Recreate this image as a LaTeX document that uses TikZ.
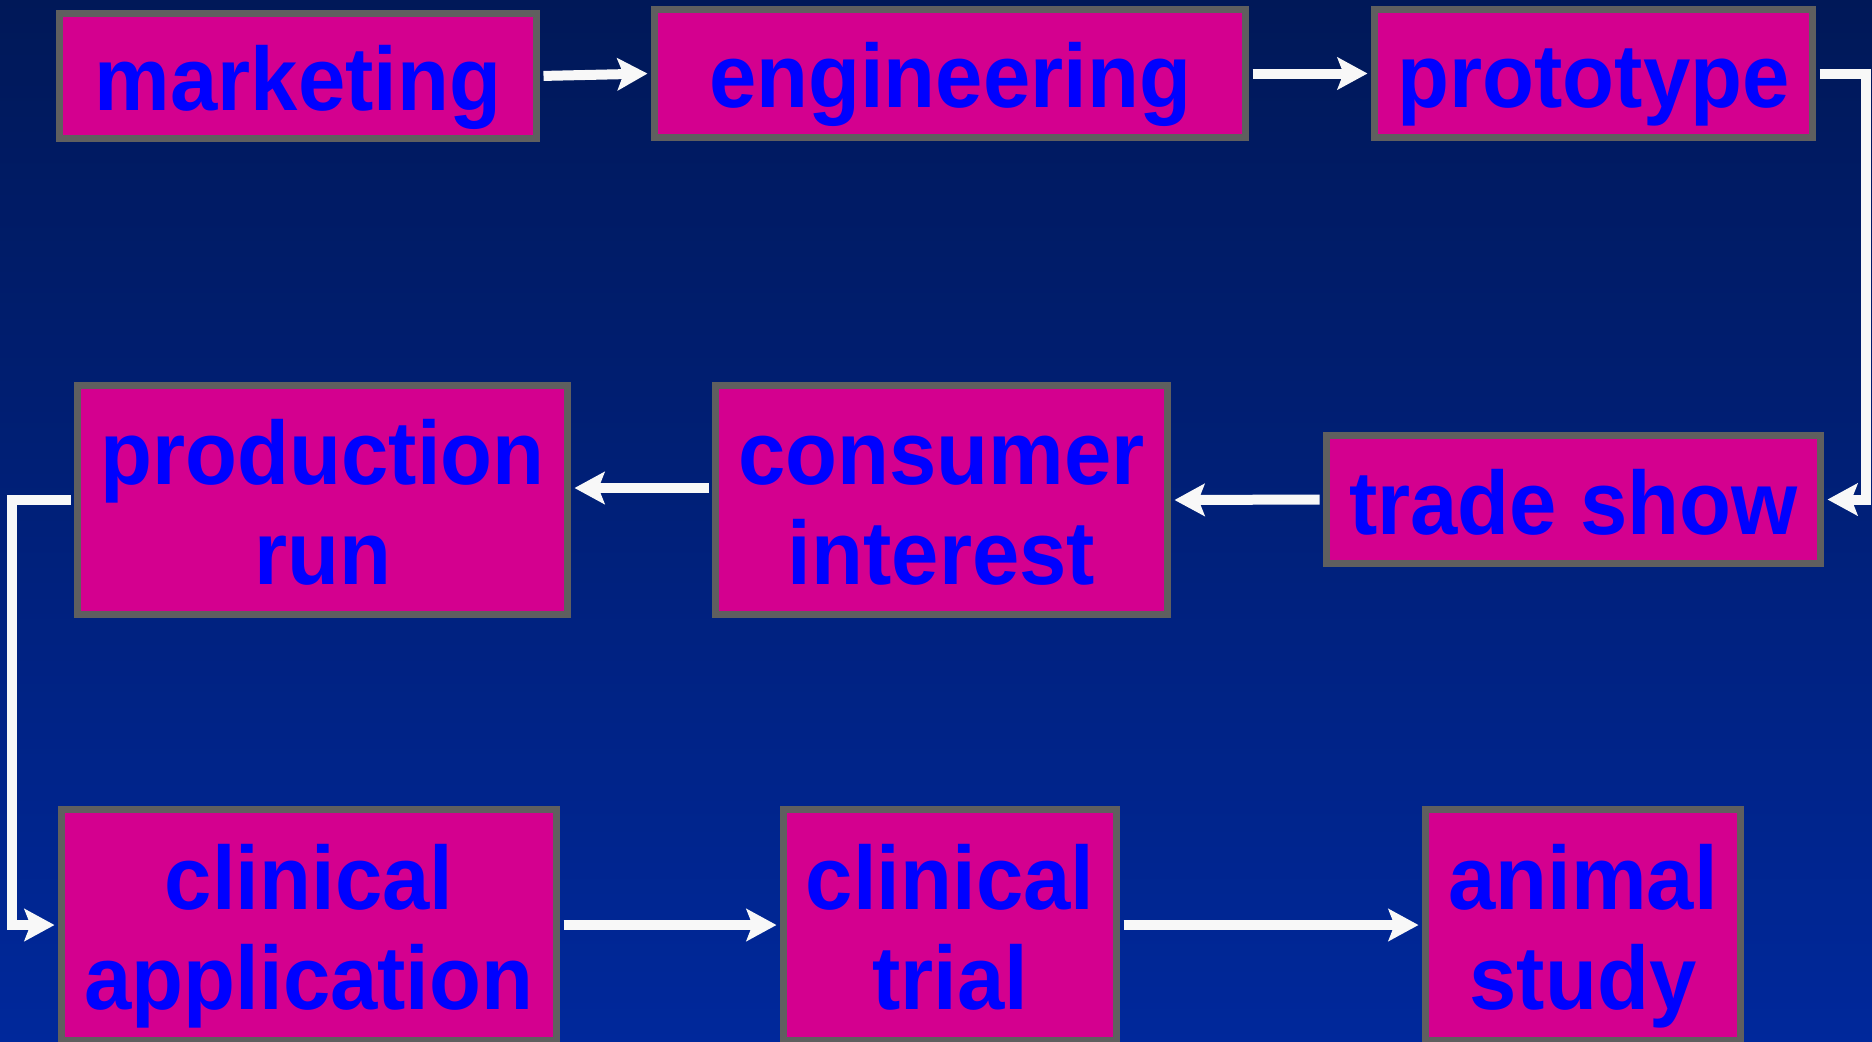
\documentclass[tikz,border=0pt]{standalone}
\usepackage{fontspec}
\newfontfamily\boxfont[FakeStretch=0.945]{Liberation Sans}
\usetikzlibrary{arrows.meta}
\definecolor{bgtop}{RGB}{0,24,88}
\definecolor{bgbot}{RGB}{0,40,155}
\definecolor{boxfill}{RGB}{212,0,143}
\definecolor{boxline}{RGB}{95,95,95}
\definecolor{txtblue}{RGB}{0,0,255}
\definecolor{arrwhite}{RGB}{248,248,248}
\newcommand\ppstrut{\rule[-0.2em]{0pt}{1.1em}}
\newcommand\ppfirst{\rule[-0.2em]{0pt}{1.17em}}
\begin{document}
\begin{tikzpicture}[x=0.5pt,y=-0.5pt,
  stagebox/.style={draw=boxline, fill=boxfill, line width=3.5pt, inner sep=0pt,
    text=txtblue, align=center, font=\boxfont\bfseries\fontsize{45}{50}\selectfont},
  flow/.style={draw=arrwhite, line width=5pt, line join=miter,
    -{Stealth[length=15pt,width=16pt,inset=3pt]},
    shorten <=1.75pt, shorten >=1.75pt}]
\useasboundingbox (0,0) rectangle (1872,1041);
\clip (0,0) rectangle (1872,1041);
\shade[top color=bgtop, bottom color=bgbot] (0,0) rectangle (1872,1041);

% row 1
\node[stagebox, minimum width=238.5pt, minimum height=62.5pt] (mk) at (298,76) {\ppfirst marketing};
\node[stagebox, minimum width=295.5pt, minimum height=64pt] (en) at (950,73.5) {\ppfirst engineering};
\node[stagebox, minimum width=219pt, minimum height=64pt] (pt) at (1593.5,73.5) {\ppfirst prototype};
% row 2
\node[stagebox, minimum width=247pt, minimum height=64pt] (ts) at (1573.5,499.5) {\ppfirst trade show};
\node[stagebox, minimum width=226pt, minimum height=114.5pt] (ci) at (941.5,500) {\ppfirst consumer\\\ppstrut interest};
\node[stagebox, minimum width=245pt, minimum height=114.5pt] (pr) at (322.5,500) {\ppfirst production\\\ppstrut run};
% row 3
\node[stagebox, minimum width=247.5pt, minimum height=115.5pt] (ca) at (309,925) {\ppfirst clinical\\\ppstrut application};
\node[stagebox, minimum width=166.5pt, minimum height=115.5pt] (ct) at (950,925) {\ppfirst clinical\\\ppstrut trial};
\node[stagebox, minimum width=157.5pt, minimum height=115.5pt] (as) at (1583,925) {\ppfirst animal\\\ppstrut study};

% corner coordinates
\coordinate (c1) at (1866,73.5);
\coordinate (c2) at (1866,499.5);
\coordinate (c3) at (12,500);
\coordinate (c4) at (12,925);

% connectors
\draw[flow] (mk.east) -- (en.west);
\draw[flow] (en.east) -- (pt.west);
\draw[flow] (pt.east) -- (c1) -- (c2) -- (ts.east);
\draw[flow] (ts.west) -- (ci.east);
\draw[flow] ([yshift=6pt]ci.west) -- ([yshift=6pt]pr.east);
\draw[flow] (pr.west) -- (c3) -- (c4) -- (ca.west);
\draw[flow] (ca.east) -- (ct.west);
\draw[flow] (ct.east) -- (as.west);
\end{tikzpicture}
\end{document}
